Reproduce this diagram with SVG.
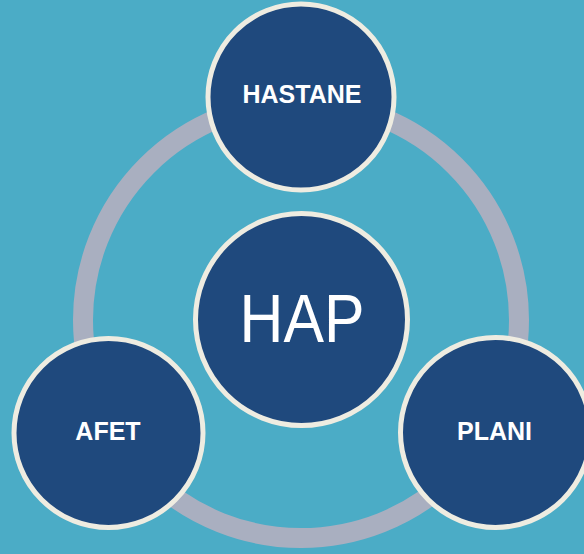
<svg xmlns="http://www.w3.org/2000/svg" width="584" height="554" viewBox="0 0 584 554">
  <style>
    .node { fill: #1F497D; stroke: #EEECE1; stroke-width: 5; }
    .label { fill: #FFFFFF; font-family: "Liberation Sans", Arial, sans-serif; font-weight: bold; font-size: 25px; text-anchor: middle; }
    .title { fill: #FFFFFF; font-family: "Liberation Sans", Arial, sans-serif; font-size: 68px; text-anchor: middle; }
  </style>
  <rect width="584" height="554" fill="#4BACC6"/>
  <g id="connectors">
    <circle cx="301" cy="320" r="218" fill="none" stroke="#A9AFC0" stroke-width="20"/>
  </g>
  <g id="hap">
    <circle class="node" cx="301.5" cy="319.5" r="106"/>
    <text class="title" x="302" y="342" textLength="125" lengthAdjust="spacingAndGlyphs">HAP</text>
  </g>
  <g id="hastane">
    <circle class="node" cx="301" cy="97" r="93"/>
    <text class="label" x="302" y="103">HASTANE</text>
  </g>
  <g id="afet">
    <circle class="node" cx="108.5" cy="433" r="94.5"/>
    <text class="label" x="108" y="440">AFET</text>
  </g>
  <g id="plani">
    <circle class="node" cx="495.5" cy="432.5" r="95"/>
    <text class="label" x="494.5" y="440">PLANI</text>
  </g>
</svg>
